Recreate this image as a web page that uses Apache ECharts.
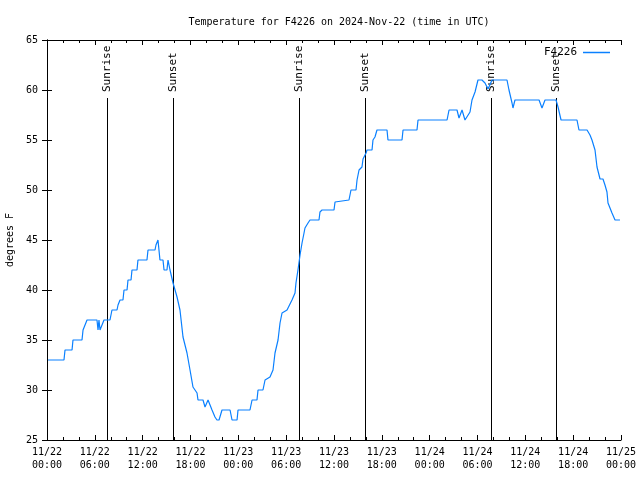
<!DOCTYPE html>
<html><head><meta charset="utf-8">
<script src="https://cdn.jsdelivr.net/npm/echarts@6/dist/echarts.min.js"></script>
<style>html,body{margin:0;padding:0;background:#fff}#c{width:640px;height:480px}</style>
</head><body><div id="c"></div>
<script>
// Hours since 2024-11-22 00:00 UTC
const hours = [0.13,2.13,2.26,3.14,3.26,4.39,4.52,4.77,5.02,6.27,6.4,6.52,6.65,6.9,7.15,7.28,7.9,8.15,8.78,8.91,9.16,9.53,9.66,10.04,10.16,10.54,10.66,11.29,11.41,12.54,12.67,13.55,13.67,13.92,14.17,14.55,14.68,15.05,15.18,15.43,15.55,15.81,16.31,16.68,17.06,17.56,17.94,18.31,18.82,18.94,19.57,19.82,20.07,20.2,20.45,20.7,21.07,21.32,21.58,21.95,22.08,22.96,23.21,23.84,23.96,25.46,25.72,26.34,26.47,27.09,27.35,27.6,27.97,28.35,28.6,28.98,29.23,29.48,30.11,30.23,30.73,30.86,31.11,31.23,31.48,31.74,31.99,32.24,32.36,32.61,32.74,32.99,34.12,34.24,34.5,36.0,36.13,36.38,37.88,38.13,38.76,38.89,39.14,39.51,39.64,40.02,40.14,40.77,40.89,41.14,41.39,42.65,42.77,44.53,44.66,46.41,46.54,50.18,50.43,51.43,51.68,52.06,52.43,52.68,53.06,53.31,53.69,54.06,54.56,54.94,55.32,55.82,57.7,57.95,58.33,58.45,58.7,61.72,62.09,62.22,62.47,63.85,64.1,64.48,66.48,66.73,67.74,68.11,68.36,68.49,68.74,68.99,69.37,69.74,69.99,70.24,70.37,70.87,71.25,71.87];
const temps = [33,33,34,34,35,35,36,36,37,37,36,37,36,36,37,37,37,38,38,38.5,39,39,40,40,41,41,42,42,43,43,44,44,44.5,45,43,43,42,42,43,42,42,40.7,39.3,38,35.3,33.7,32,30.3,29.7,29,29,28.3,28.3,29,28.5,28,27.3,27,27,28,28,28,27,27,28,28,29,29,30,30,31,31,31.3,32,33.7,35,36.7,37.7,38,38,39,39,39.7,40.7,42,43.5,44.7,45.7,46.2,46.2,46.7,47,47,47.8,48,48,48.8,49,49,50,50,51,52,52.3,53.1,53.7,54,54,55,55.3,56,56,55,55,56,56,57,57,58,58,57.2,58,57,57,57.8,59,59.8,61,61,60.7,60.1,61,61,60,58.7,58.2,59,59,58.2,58.2,59,59,58.3,57,57,56,56,55.5,55,55,54,52.3,51.1,51.1,50.5,49.8,48.7,47.7,47,47];
const sunHours = [7.53, 15.81, 31.61, 39.89, 55.69, 63.85];
const sunLabels = ["Sunrise","Sunset","Sunrise","Sunset","Sunrise","Sunset"];
const xTickLabels = ["11/22\n00:00","11/22\n06:00","11/22\n12:00","11/22\n18:00","11/23\n00:00","11/23\n06:00","11/23\n12:00","11/23\n18:00","11/24\n00:00","11/24\n06:00","11/24\n12:00","11/24\n18:00","11/25\n00:00"];
const seriesName = "F4226";
const titleText = "Temperature for F4226 on 2024-Nov-22 (time in UTC)";

const FONT = "'DejaVu Sans Mono', monospace";
const BLUE = '#0a80ff';
const chart = echarts.init(document.getElementById('c'), null, {renderer:'canvas'});
const lineData = hours.map((h,i)=>[h,temps[i]]);
const sunData = sunHours.map((h,i)=>[h, sunLabels[i]]);
const axLine = {show:true, lineStyle:{color:'#000', width:1}};
const option = {
  animation:false,
  backgroundColor:'#fff',
  title:{text:titleText, left:334, textAlign:'center', top:12, textStyle:{fontFamily:FONT, fontSize:10, fontWeight:'normal', color:'#000'}},
  legend:{data:[{name:seriesName, icon:'rect', itemStyle:{color:BLUE}}], right:25, top:42, align:'right', itemWidth:27, itemHeight:1.5, itemGap:4,
    textStyle:{fontFamily:FONT, fontSize:11, color:'#000', padding:[0,1,0,0]}},
  grid:{left:47, right:19, top:40, bottom:40, containLabel:false, outerBoundsMode:'none'},
  xAxis:[{type:'value', min:0, max:72, interval:6, axisLine:axLine,
      axisTick:{inside:true, length:5, lineStyle:{color:'#000'}},
      minorTick:{show:true, splitNumber:3, length:3, lineStyle:{color:'#000'}},
      splitLine:{show:false},
      axisLabel:{fontFamily:FONT, fontSize:10, color:'#000', lineHeight:13, margin:6,
        formatter:(v)=>xTickLabels[Math.round(v/6)]}},
    {type:'value', position:'top', min:0, max:72, interval:6, axisLine:axLine,
      axisTick:{inside:true, length:5, lineStyle:{color:'#000'}},
      minorTick:{show:true, splitNumber:3, length:3, lineStyle:{color:'#000'}},
      splitLine:{show:false}, axisLabel:{show:false}}],
  yAxis:[{type:'value', min:25, max:65, interval:5, name:'degrees F', nameLocation:'middle', nameGap:31, nameRotate:90,
      nameTextStyle:{fontFamily:FONT, fontSize:10, color:'#000'},
      axisLine:axLine, axisTick:{inside:true, length:5, lineStyle:{color:'#000'}},
      splitLine:{show:false},
      axisLabel:{fontFamily:FONT, fontSize:10, color:'#000', margin:9}},
    {type:'value', position:'right', min:25, max:65, interval:5, axisLine:axLine,
      axisTick:{inside:true, length:5, lineStyle:{color:'#000'}},
      splitLine:{show:false}, axisLabel:{show:false}}],
  series:[
    {type:'custom', name:'sun', data:sunData, silent:true, z:1,
      renderItem:(params, api)=>{
        const h = api.value(0);
        const lbl = sunLabels[params.dataIndex];
        const p0 = api.coord([h,25]);
        const p1 = api.coord([h,59.2]);
        const x = Math.round(p0[0]) + 0.5;
        return {type:'group', children:[
          {type:'line', shape:{x1:x, y1:p0[1], x2:x, y2:p1[1]}, style:{stroke:'#000', lineWidth:1}},
          {type:'text', x:x, y:p1[1]-6, rotation:Math.PI/2,
            style:{text:lbl, fill:'#000', font:"11px 'DejaVu Sans Mono', monospace", align:'left', verticalAlign:'middle'}}
        ]};
      }},
    {type:'line', name:seriesName, data:lineData, showSymbol:false, symbol:'none', z:3,
      lineStyle:{color:BLUE, width:1.2}, itemStyle:{color:BLUE}}
  ]
};
chart.setOption(option);
</script></body></html>
